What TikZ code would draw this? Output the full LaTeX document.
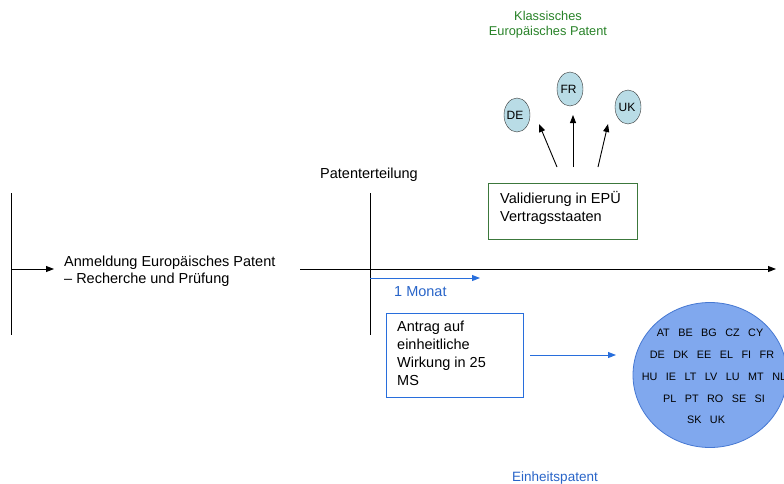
\documentclass[tikz,border=0pt]{standalone}
\usepackage{fontspec}
\setmainfont{Liberation Sans}
\usetikzlibrary{arrows.meta,shapes.geometric}
\definecolor{gtxt}{RGB}{40,130,40}
\definecolor{gbox}{RGB}{60,120,60}
\definecolor{btxt}{RGB}{40,100,200}
\definecolor{bline}{RGB}{40,110,220}
\definecolor{bigfill}{RGB}{128,168,238}
\definecolor{bigdraw}{RGB}{70,120,210}
\definecolor{smallfill}{RGB}{185,220,230}
\newcommand{\gp}{\hspace{8.5pt}}
\tikzset{
  txt/.style={font=\fontsize{14.5}{17.5}\selectfont, inner sep=0pt, align=left},
  small/.style={font=\fontsize{10.8}{13}\selectfont, inner sep=0pt},
  country/.style={draw=black!80, fill=smallfill, ellipse, minimum width=26pt, minimum height=34pt, inner sep=0pt, font=\fontsize{12}{14}\selectfont},
  blk/.style={-{Triangle[length=8pt,width=6pt]}, line width=0.9pt},
  blu/.style={-{Triangle[length=8pt,width=6pt]}, line width=0.9pt, draw=bline}
}
\begin{document}
\begin{tikzpicture}[x=1pt,y=-1pt]
\useasboundingbox (0,0) rectangle (784,483);
\clip (0,0) rectangle (784,483);
% timeline verticals
\coordinate (l1) at (11,193); \coordinate (l2) at (11,335);
\draw[line width=0.8pt] (l1) -- (l2);
\coordinate (m1) at (370,193); \coordinate (m2) at (370,335);
\draw[line width=0.8pt] (m1) -- (m2);
\coordinate (a0) at (11,269); \coordinate (a1) at (54,269);
\draw[blk] (a0) -- (a1);
\node[txt, anchor=west] (anm) at (64,271) {Anmeldung Europäisches Patent\\– Recherche und Prüfung};
\coordinate (t0) at (300,269); \coordinate (t1) at (776,269);
\draw[blk] (t0) -- (t1);
\node[txt, anchor=center] (pat) at (369,175) {Patenterteilung};
% 1 Monat
\coordinate (b0) at (370,278); \coordinate (b1) at (480,278);
\draw[blu] (b0) -- (b1);
\node[txt, text=btxt, anchor=west] (mon) at (394,292) {1 Monat};
% Antrag box
\node[draw=bline, line width=0.9pt, minimum width=137pt, minimum height=84pt, anchor=north west] (antr) at (386,313) {};
\node[txt, anchor=north west, font=\fontsize{14.5}{18}\selectfont] (antrt) at (397,321) {Antrag auf\\einheitliche\\Wirkung in 25\\MS};
\coordinate (c0) at (530,355); \coordinate (c1) at (616,355);
\draw[blu] (c0) -- (c1);
% big circle
\node[ellipse, draw=bigdraw, fill=bigfill, line width=0.8pt, minimum width=154pt, minimum height=145pt, inner sep=0pt] (eu) at (710,375) {};
\node[small] at (710,333) {AT\gp BE\gp BG\gp CZ\gp CY};
\node[small] at (712,355) {DE\gp DK\gp EE\gp EL\gp FI\gp FR};
\node[small] at (714,377) {HU\gp IE\gp LT\gp LV\gp LU\gp MT\gp NL};
\node[small] at (714,399) {PL\gp PT\gp RO\gp SE\gp SI};
\node[small] at (706,420) {SK\gp UK};
\node[small, text=btxt, font=\fontsize{13.5}{15}\selectfont] (einh) at (555,478) {Einheitspatent};
% classic
\node[small, text=gtxt, align=center, font=\fontsize{12.8}{15}\selectfont] (kl) at (548,25) {Klassisches\\Europäisches Patent};
\node[country] (de) at (517,115) {\hspace*{-4pt}DE};
\node[country] (fr) at (570,89) {\hspace*{-3pt}FR};
\node[country] (uk) at (628,107) {\hspace*{-2pt}UK};
\node[draw=gbox, line width=0.9pt, minimum width=149pt, minimum height=56pt, anchor=north west] (val) at (488,183) {};
\node[txt, anchor=north west, font=\fontsize{14.5}{18}\selectfont] (valt) at (500,191) {Validierung in EPÜ\\Vertragsstaaten};
\coordinate (v1) at (557,167); \coordinate (v1e) at (539,124);
\coordinate (v2) at (573,167); \coordinate (v2e) at (573,115);
\coordinate (v3) at (598,167); \coordinate (v3e) at (608,124);
\draw[blk] (v1) -- (v1e);
\draw[blk] (v2) -- (v2e);
\draw[blk] (v3) -- (v3e);
\end{tikzpicture}
\end{document}
